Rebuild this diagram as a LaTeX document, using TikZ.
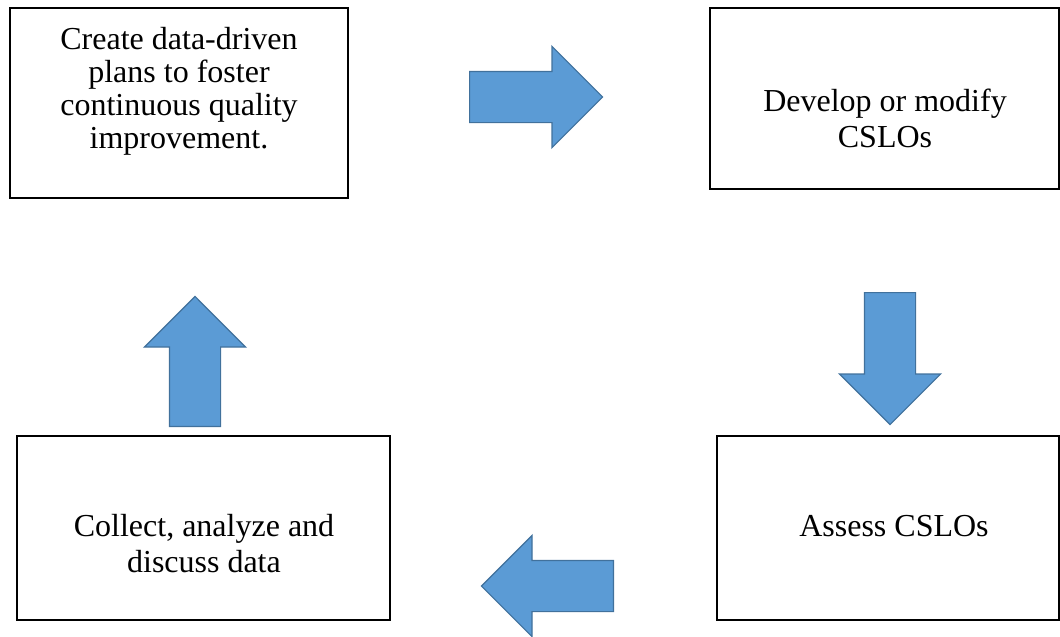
\documentclass[tikz,border=0pt]{standalone}
\usepackage{fontspec}
\setmainfont{Liberation Serif}
\usepackage{xcolor}
\usepackage{tikz}
\usetikzlibrary{shapes.arrows,positioning}
\definecolor{arrowfill}{HTML}{5B9BD5}
\definecolor{arrowline}{HTML}{41719C}
\tikzset{
  stage/.style={
    draw,
    line width=1.5pt,
    inner sep=0pt
  },
  stagetext/.style={
    align=center,
    inner sep=0pt,
    font=\fontsize{32}{36}\selectfont
  },
  bigarrow/.style={
    single arrow,
    draw=arrowline,
    fill=arrowfill,
    line width=1.2pt,
    inner sep=25pt,
    single arrow head extend=25pt,
    minimum width=100pt,
    minimum height=132pt,
    anchor=tail
  }
}
\begin{document}
\begin{tikzpicture}[x=1pt, y=-1pt]
  \useasboundingbox (0,0) rectangle (1060,637);
  % the four stages
  \node[stage, minimum width=338pt, minimum height=190pt] (plan) at (179,103) {};
  \node[stage, minimum width=349pt, minimum height=181pt] (develop) at (884.5,98.5) {};
  \node[stage, minimum width=342pt, minimum height=184pt] (assess) at (888,528) {};
  \node[stage, minimum width=373pt, minimum height=184pt] (collect) at (203.5,528) {};

  \node[stagetext, font=\fontsize{32}{33}\selectfont] (plan-text) at (179,91.5)
    {Create data-driven\\plans to foster\\continuous quality\\improvement.};
  \node[stagetext] (develop-text) at (885,118.5) {Develop or modify\\CSLOs};
  \node[stagetext] (assess-text) at (894,526.5) {Assess CSLOs};
  \node[stagetext] (collect-text) at (204,543.5) {Collect, analyze and\\discuss data};

  % block arrows between the stages (placed by their tails)
  \node[bigarrow, minimum height=133pt] (toDevelop) at (469,97) {};
  \node[bigarrow, shape border rotate=270] (toAssess) at (890,292) {};
  \node[bigarrow, shape border rotate=180] (toCollect) at (614,586) {};
  \node[bigarrow, shape border rotate=90, minimum height=130pt] (toPlan) at (195,427) {};
\end{tikzpicture}
\end{document}
